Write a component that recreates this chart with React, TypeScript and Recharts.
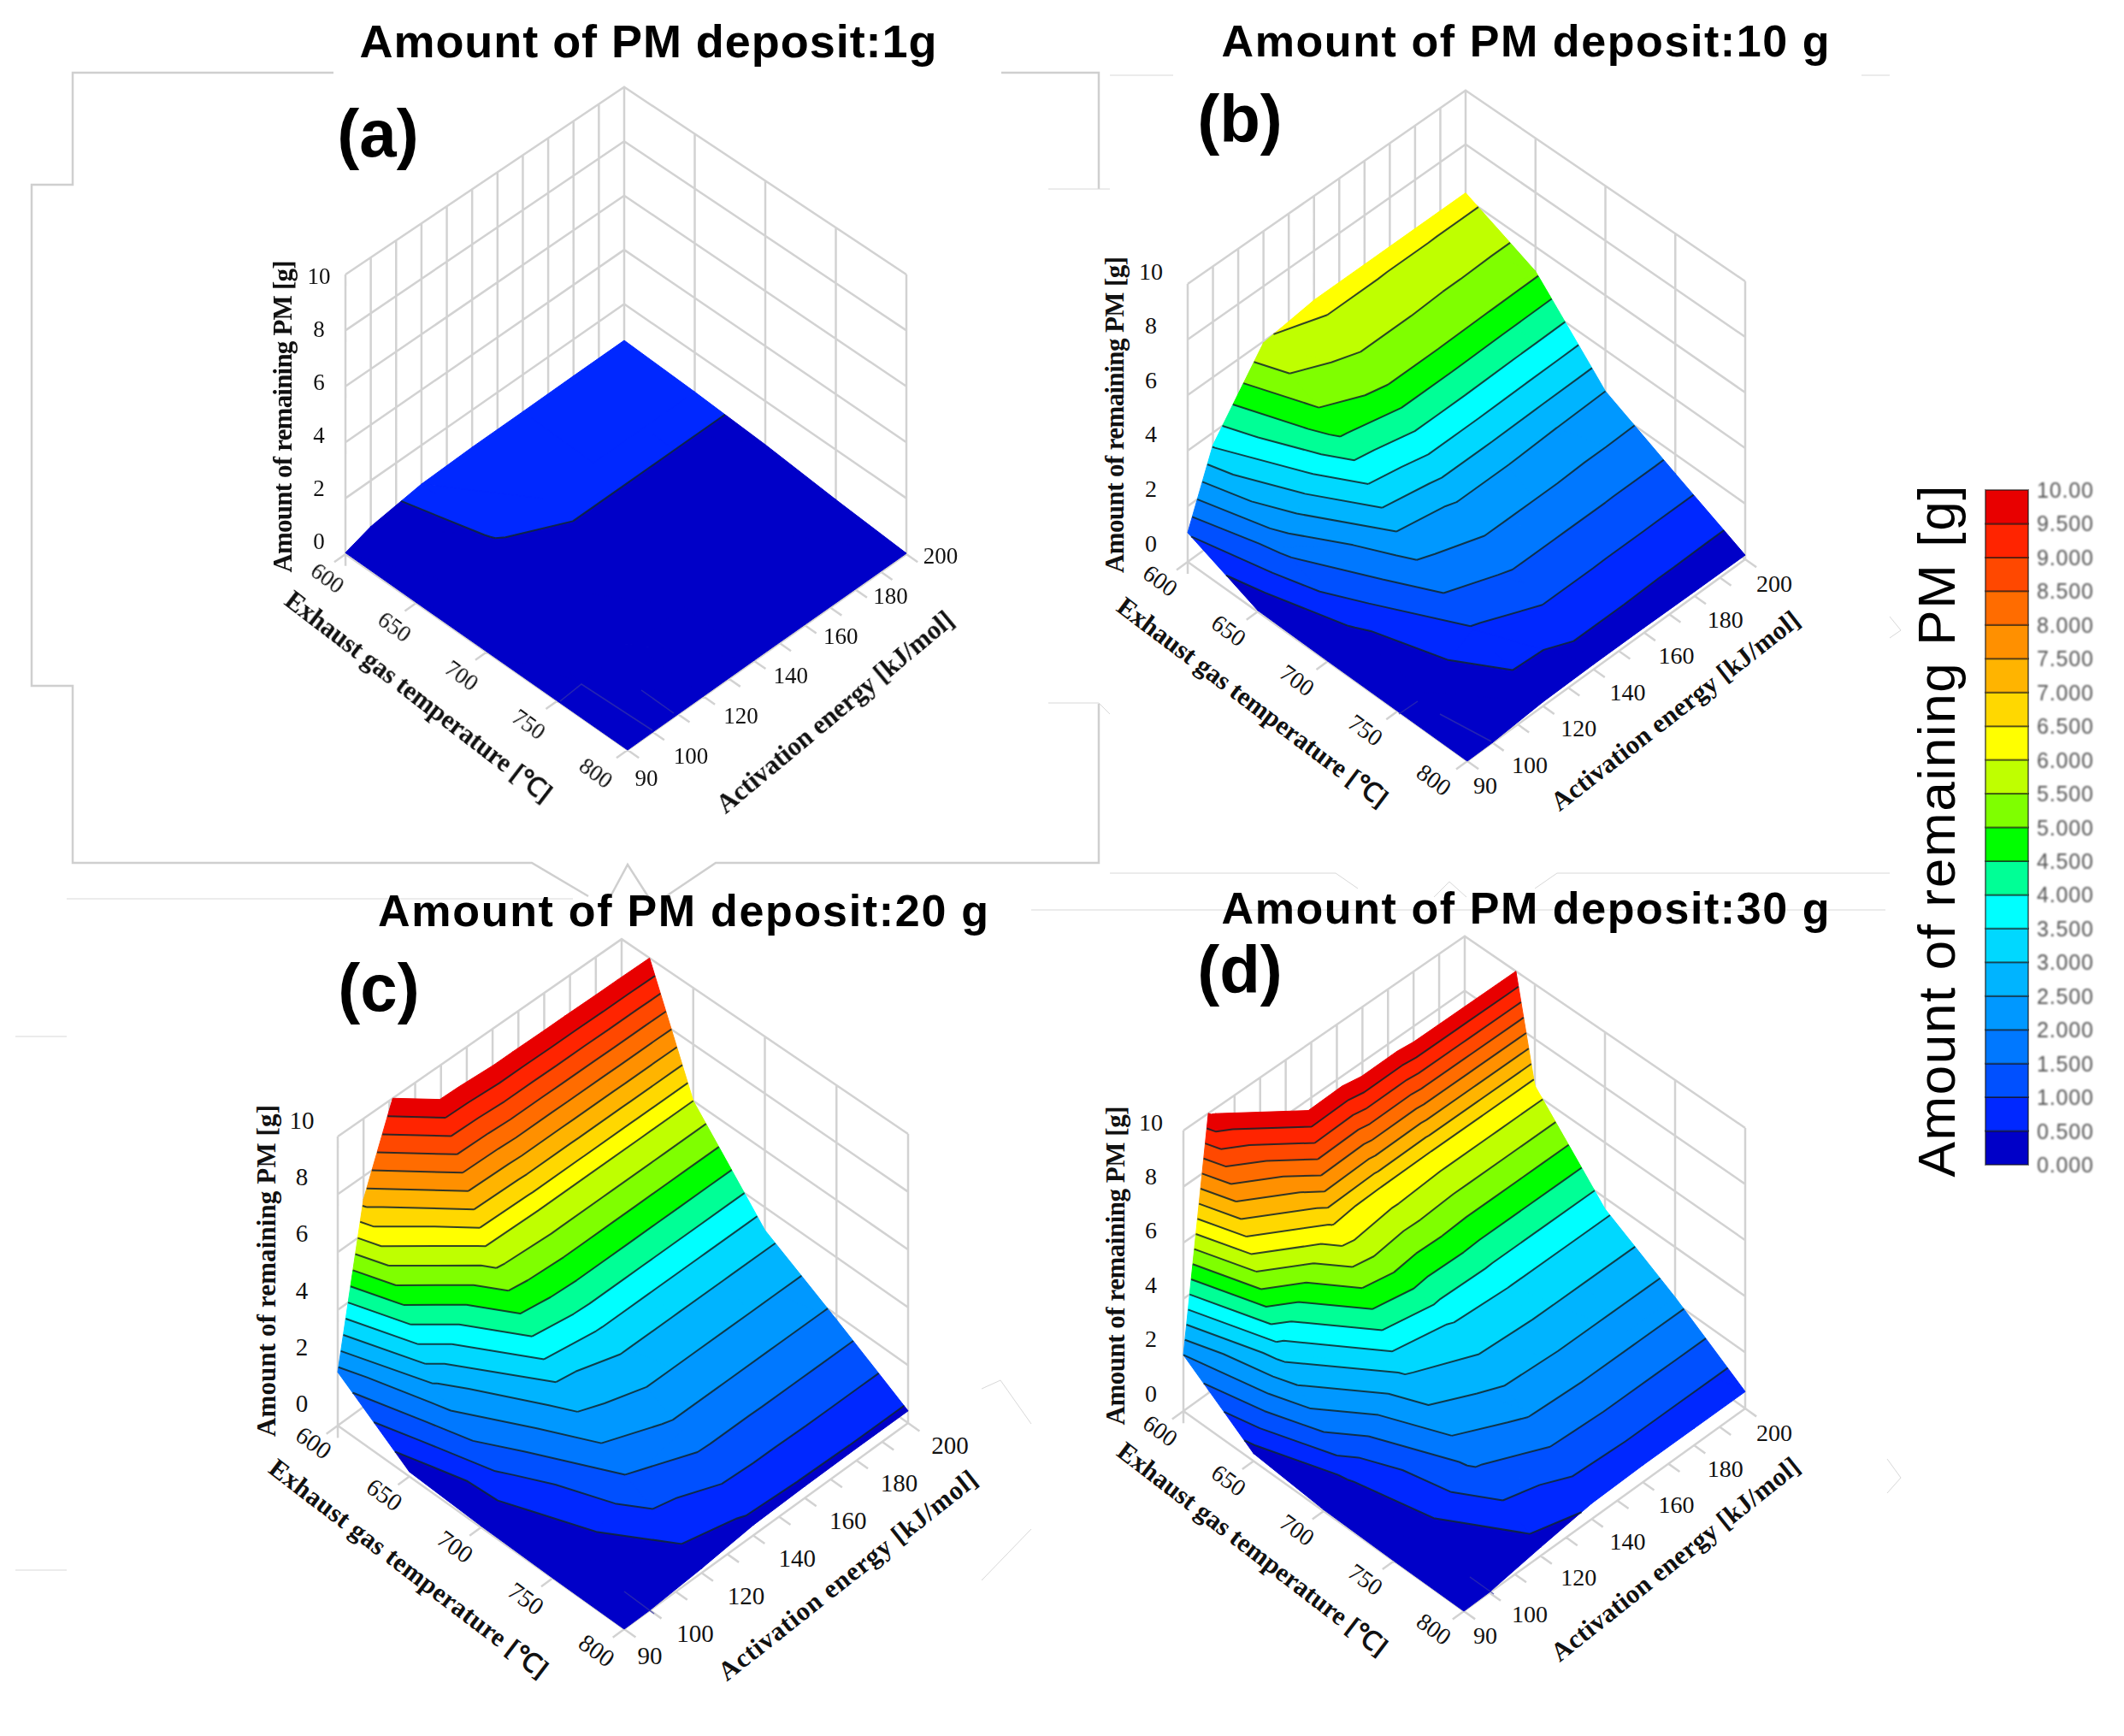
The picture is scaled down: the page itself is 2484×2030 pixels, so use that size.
import React from 'react';
import { ScatterChart, Scatter, XAxis, YAxis } from 'recharts';

const WIDTH = 2484;
const HEIGHT = 2030;

const temperatures = [600, 650, 700, 750, 800];
const energies = [90, 100, 120, 140, 160, 180, 200];
const energyGrid = [90, 100, 110, 120, 130, 140, 150, 160, 170, 180, 190, 200];
const energyLabels = [100, 120, 140, 160, 180, 200];
const heightTicks = [0, 2, 4, 6, 8, 10];
const levels = [0, 0.5, 1, 1.5, 2, 2.5, 3, 3.5, 4, 4.5, 5, 5.5, 6, 6.5, 7, 7.5, 8, 8.5, 9, 9.5, 10];
const bandColors = [
  '#0000c8', '#0028ff', '#0050ff', '#0078ff', '#0098ff', '#00b4ff', '#00d8ff', '#00ffff', '#00ff96', '#00ff00',
  '#7fff00', '#bfff00', '#ffff00', '#ffd800', '#ffb400', '#ff9000', '#ff6c00', '#ff4800', '#ff2400', '#e80000',
];

// remaining PM [g]: one row per activation energy, one column per temperature
const surfaceA = [
  [0.05, 0.03, 0.02, 0.01, 0],
  [0.35, 0.2, 0.08, 0.03, 0.01],
  [0.6, 0.51, 0.3, 0.1, 0.02],
  [0.65, 0.56, 0.42, 0.2, 0.03],
  [0.65, 0.56, 0.42, 0.2, 0.03],
  [0.66, 0.56, 0.42, 0.2, 0.03],
  [0.66, 0.56, 0.42, 0.2, 0.03],
];
const surfaceB = [
  [1.05, 0.05, 0.02, 0.01, 0],
  [3.55, 1.65, 0.42, 0.03, 0.01],
  [5.95, 4.75, 2.25, 0.95, 0.15],
  [6.2, 5.15, 2.55, 1.3, 0.18],
  [6.2, 5.15, 2.55, 1.3, 0.18],
  [6.2, 5.12, 2.52, 1.3, 0.16],
  [6.2, 5.1, 2.5, 1.3, 0.15],
];
const surfaceC = [
  [1.85, 0.16, 0.05, 0.01, 0],
  [7.2, 2.35, 0.74, 0.02, 0.01],
  [12.15, 5.9, 2.9, 1.4, 0.15],
  [12.4, 6.0, 3.2, 1.83, 0.35],
  [12.45, 6.0, 3.2, 1.83, 0.4],
  [12.5, 6.0, 3.2, 1.83, 0.42],
  [12.55, 6.0, 3.2, 1.83, 0.42],
];
const surfaceD = [
  [2.0, 0.27, 0.05, 0.01, 0],
  [10.2, 3.2, 0.53, 0.07, 0.02],
  [17.5, 6.6, 3.1, 1.6, 0.3],
  [19, 6.4, 3.55, 2.15, 0.55],
  [20, 6.3, 3.6, 2.2, 0.6],
  [20, 6.3, 3.6, 2.2, 0.6],
  [20, 6.3, 3.6, 2.2, 0.6],
];

const panels = [
  {
    id: 'a', letter: '(a)', title: 'Amount of PM deposit:1g', surface: surfaceA,
    left: [404, 648], tVec: [330, 229], eVec: [326, -229], unit: 32.7,
    titlePos: [758, 67, 675], letterPos: [442, 184],
    zLabel: [373, 633, 323], tLabel: [[383, 676], [697, 904]],
    eLabel90: [756, 910], eLabel: [[808, 884], [1100, 650]], tick: 27,
    tTitle: [490, 814, 384, 37.5], eTitle: [976, 832, 350, -39.8], zTitle: [330, 487, 365],
  },
  {
    id: 'b', letter: '(b)', title: 'Amount of PM deposit:10 g', surface: surfaceB,
    left: [1389, 657], tVec: [327, 233], eVec: [325, -236], unit: 32.5,
    titlePos: [1784, 67, 711], letterPos: [1450, 167],
    zLabel: [1346, 635, 317], tLabel: [[1357, 679], [1677, 912]],
    eLabel90: [1737, 918], eLabel: [[1789, 894], [2075, 682]], tick: 28,
    tTitle: [1465, 821, 387, 36.9], eTitle: [1959, 831, 359, -37.9], zTitle: [1303, 485, 370],
  },
  {
    id: 'c', letter: '(c)', title: 'Amount of PM deposit:20 g', surface: surfaceC,
    left: [395, 1667], tVec: [335, 238], eVec: [332, -241], unit: 33.8,
    titlePos: [799, 1084, 714], letterPos: [443, 1183],
    zLabel: [353, 1641, 1310], tLabel: [[367, 1687], [698, 1930]],
    eLabel90: [760, 1936], eLabel: [[813, 1910], [1111, 1690]], tick: 29,
    tTitle: [478, 1834, 401, 37.3], eTitle: [991, 1842, 376, -38.3], zTitle: [311, 1486, 388],
  },
  {
    id: 'd', letter: '(d)', title: 'Amount of PM deposit:30 g', surface: surfaceD,
    left: [1384, 1650], tVec: [328, 234], eVec: [329, -237], unit: 32.8,
    titlePos: [1784, 1081, 711], letterPos: [1450, 1162],
    zLabel: [1346, 1629, 1312], tLabel: [[1357, 1673], [1677, 1905]],
    eLabel90: [1737, 1912], eLabel: [[1789, 1887], [2075, 1675]], tick: 28,
    tTitle: [1465, 1811, 389, 37.5], eTitle: [1959, 1823, 362, -38.6], zTitle: [1304, 1480, 373],
  },
];

// stray frame remnants of the composite figure
const frameLines = [
  [[390, 85], [85, 85], [85, 216], [37, 216], [37, 802], [85, 802], [85, 1009], [622, 1009], [688, 1048]],
  [[1171, 85], [1285, 85], [1285, 221]],
  [[1285, 823], [1285, 1009], [837, 1009], [779, 1048]],
  [[713, 1050], [734, 1011], [759, 1050]],
];
const thinLines = [
  [[1226, 221], [1298, 221]], [[1226, 822], [1285, 822], [1298, 835]],
  [[1298, 88], [1372, 88]], [[2177, 88], [2210, 88]],
  [[78, 1051], [670, 1051]], [[1206, 1064], [2205, 1064]],
  [[18, 1212], [78, 1212]], [[18, 1836], [78, 1836]],
  [[1148, 1624], [1170, 1614], [1206, 1665]], [[1148, 1848], [1206, 1788]],
  [[1298, 1021], [1562, 1021], [1588, 1039]], [[1821, 1021], [2210, 1021]], [[1795, 1039], [1821, 1021]],
  [[1677, 1049], [1695, 1031], [1715, 1049]],
  [[2207, 1706], [2223, 1728], [2207, 1746]], [[2210, 721], [2223, 737], [2210, 746]],
];
// faint scratches left on the surfaces
const scratchLines = [
  [[655, 820], [680, 800], [763, 854]], [[750, 807], [788, 834]],
  [[1636, 835], [1658, 820]], [[1684, 835], [1744, 867]],
  [[730, 1861], [765, 1887]], [[1719, 1844], [1747, 1864]],
];

const BAR = { x0: 2322, x1: 2372, y0: 1362, y1: 573 };

type Pt = number[];
type Label = {
  x: number; y: number; text: string; size: number; weight?: string; family: string;
  angle?: number; length?: number; fill?: string; blur?: number;
};

// slight perspective: the height unit shrinks a little towards the back corner
const project = (p: any, t: number, e: number, z: number): Pt => [
  p.left[0] + t * p.tVec[0] + e * p.eVec[0],
  p.left[1] + t * p.tVec[1] + e * p.eVec[1] - z * p.unit * (1 - 0.03 * (e - t)),
];
const tFrac = (v: number) => (v - 600) / 200;
const eFrac = (v: number) => (v - 90) / 110;

// every grid cell is split in two triangles along its rising diagonal, as the contour kinks show
const triangles = (surface: number[][]): Pt[][] => {
  const out: Pt[][] = [];
  for (let j = 0; j < energies.length - 1; j++) {
    for (let i = 0; i < temperatures.length - 1; i++) {
      const node = (a: number, b: number): Pt => [tFrac(temperatures[a]), eFrac(energies[b]), surface[b][a]];
      out.push([node(i, j), node(i + 1, j), node(i + 1, j + 1)]);
      out.push([node(i, j), node(i + 1, j + 1), node(i, j + 1)]);
    }
  }
  return out;
};

const cross = (a: Pt, b: Pt, level: number): Pt => {
  const f = (level - a[2]) / (b[2] - a[2]);
  return [a[0] + f * (b[0] - a[0]), a[1] + f * (b[1] - a[1]), level];
};

const clip = (poly: Pt[], level: number, keepAbove: boolean): Pt[] => {
  const out: Pt[] = [];
  poly.forEach((a, i) => {
    const b = poly[(i + 1) % poly.length];
    const aIn = keepAbove ? a[2] >= level : a[2] <= level;
    const bIn = keepAbove ? b[2] >= level : b[2] <= level;
    if (aIn) out.push(a);
    if (aIn !== bIn) out.push(cross(a, b, level));
  });
  return out;
};

const contourSegments = (tri: Pt[], level: number): Pt[] => {
  const pts: Pt[] = [];
  tri.forEach((a, i) => {
    const b = tri[(i + 1) % 3];
    if (a[2] < level !== b[2] < level) pts.push(cross(a, b, level));
  });
  return pts.length === 2 ? pts : [];
};

// one Scatter holding many paths: the points go through the chart's scales, the line draws them
const pathSeries = (key: string, paths: Pt[][], style: any, closed = false) => {
  const data = paths.flatMap((path, id) => path.map(([x, y]) => ({ x, y, id })));
  const draw = ({ points }: any) => {
    let d = '';
    points.forEach((p: any, i: number) => {
      const first = i === 0 || data[i - 1].id !== data[i].id;
      const last = i === data.length - 1 || data[i + 1].id !== data[i].id;
      d += `${first ? 'M' : 'L'}${p.x} ${p.y}${closed && last ? 'Z' : ''}`;
    });
    return <path d={d} fill="none" {...style} />;
  };
  return <Scatter key={key} data={data} line={draw} shape={() => <g />} isAnimationActive={false} />;
};

const textSeries = (key: string, labels: Label[]) => (
  <Scatter
    key={key}
    data={labels}
    isAnimationActive={false}
    shape={(props: any) => {
      const l: Label = props.payload;
      return (
        <text
          x={props.cx}
          y={props.cy}
          fontSize={l.size}
          fontWeight={l.weight ?? 'normal'}
          fontFamily={l.family}
          textAnchor="middle"
          dominantBaseline="central"
          fill={l.fill ?? '#111'}
          textLength={l.length}
          lengthAdjust="spacing"
          style={l.blur ? { filter: `blur(${l.blur}px)` } : undefined}
          transform={l.angle ? `rotate(${l.angle} ${props.cx} ${props.cy})` : undefined}
        >
          {l.text}
        </text>
      );
    }}
  />
);

const SERIF = '"Liberation Serif", serif';
const SANS = '"Liberation Sans", Arial, sans-serif';

const panelSeries = (p: any) => {
  const tris = triangles(p.surface);
  const series: any[] = [];

  // walls and floor edges
  const wall: Pt[][] = [];
  heightTicks.forEach((z) => wall.push([project(p, 0, 0, z), project(p, 0, 1, z), project(p, 1, 1, z)]));
  energyGrid.forEach((e) => wall.push([project(p, 0, eFrac(e), 0), project(p, 0, eFrac(e), 10)]));
  temperatures.forEach((t) => wall.push([project(p, tFrac(t), 1, 0), project(p, tFrac(t), 1, 10)]));
  wall.push([project(p, 0, 0, 0), project(p, 1, 0, 0), project(p, 1, 1, 0)]);
  energyGrid.forEach((e) => wall.push([project(p, 1, eFrac(e), 0), project(p, 1.04, eFrac(e), 0)]));
  temperatures.forEach((t) => wall.push([project(p, tFrac(t), 0, 0), project(p, tFrac(t), -0.04, 0)]));
  heightTicks.forEach((z) => wall.push([project(p, 0, 0, z), project(p, 0.03, -0.03, z)]));
  series.push(pathSeries(`wall-${p.id}`, wall, { stroke: '#d2d2d2', strokeWidth: 2.5 }));

  // filled bands
  bandColors.forEach((color, b) => {
    const polys = tris
      .map((tri) => clip(clip(tri, levels[b], true), levels[b + 1], false))
      .filter((poly) => poly.length >= 3)
      .map((poly) => poly.map((q) => project(p, q[0], q[1], q[2])));
    if (polys.length) {
      series.push(pathSeries(`band-${p.id}-${b}`, polys, { fill: color, stroke: color, strokeWidth: 1 }, true));
    }
  });

  // contour lines
  const segments: Pt[][] = [];
  levels.slice(1, -1).forEach((level) => {
    tris.forEach((tri) => {
      const seg = contourSegments(tri, level);
      if (seg.length) segments.push(seg.map((q) => project(p, q[0], q[1], q[2])));
    });
  });
  series.push(pathSeries(`contour-${p.id}`, segments, { stroke: '#10242a', strokeWidth: 2, strokeOpacity: 0.85 }));

  // labels
  const labels: Label[] = [];
  const blur = p.id === 'a' ? 0.7 : 0;
  heightTicks.forEach((z) =>
    labels.push({
      x: p.zLabel[0], y: p.zLabel[1] + (z / 10) * (p.zLabel[2] - p.zLabel[1]),
      text: String(z), size: p.tick, family: SERIF, blur,
    }));
  temperatures.forEach((t) => {
    const f = tFrac(t);
    labels.push({
      x: p.tLabel[0][0] + f * (p.tLabel[1][0] - p.tLabel[0][0]),
      y: p.tLabel[0][1] + f * (p.tLabel[1][1] - p.tLabel[0][1]),
      text: String(t), size: p.tick, family: SERIF, angle: 36, blur,
    });
  });
  labels.push({ x: p.eLabel90[0], y: p.eLabel90[1], text: '90', size: p.tick, family: SERIF, blur });
  energyLabels.forEach((e) => {
    const f = (e - 100) / 100;
    labels.push({
      x: p.eLabel[0][0] + f * (p.eLabel[1][0] - p.eLabel[0][0]),
      y: p.eLabel[0][1] + f * (p.eLabel[1][1] - p.eLabel[0][1]),
      text: String(e), size: p.tick, family: SERIF, blur,
    });
  });
  labels.push({
    x: p.tTitle[0], y: p.tTitle[1], text: 'Exhaust gas temperature [℃]', size: 31, weight: 'bold',
    family: SERIF, angle: p.tTitle[3], length: p.tTitle[2], blur,
  });
  labels.push({
    x: p.eTitle[0], y: p.eTitle[1], text: 'Activation energy [kJ/mol]', size: 31, weight: 'bold',
    family: SERIF, angle: p.eTitle[3], length: p.eTitle[2], blur,
  });
  labels.push({
    x: p.zTitle[0], y: p.zTitle[1], text: 'Amount of remaining PM [g]', size: 31, weight: 'bold',
    family: SERIF, angle: -90, length: p.zTitle[2], blur,
  });
  labels.push({
    x: p.titlePos[0], y: p.titlePos[1] - 19, text: p.title, size: p.id === 'a' ? 54 : 52, weight: 'bold',
    family: SANS, length: p.titlePos[2], fill: '#000',
  });
  labels.push({
    x: p.letterPos[0], y: p.letterPos[1] - 28, text: p.letter, size: 78, weight: 'bold', family: SANS, fill: '#000',
  });
  series.push(textSeries(`labels-${p.id}`, labels));
  return series;
};

const barY = (v: number) => BAR.y0 + (v / 10) * (BAR.y1 - BAR.y0);

const legendSeries = () => {
  const series: any[] = [];
  bandColors.forEach((color, b) => {
    series.push(pathSeries(`legend-${b}`, [[
      [BAR.x0, barY(levels[b])], [BAR.x1, barY(levels[b])],
      [BAR.x1, barY(levels[b + 1])], [BAR.x0, barY(levels[b + 1])],
    ]], { fill: color, stroke: 'rgba(20,20,20,0.55)', strokeWidth: 2 }, true));
  });
  const labels: Label[] = levels.map((v) => ({
    x: 2415, y: barY(v), text: v === 10 ? '10.00' : v.toFixed(3), size: 25,
    family: SANS, fill: '#555', length: 66, blur: 0.8,
  }));
  labels.push({
    x: 2264, y: 972, text: 'Amount of remaining PM [g]', size: 62, family: SANS, fill: '#000', angle: -90, length: 809,
  });
  series.push(textSeries('legend-labels', labels));
  return series;
};

export default function App() {
  return (
    <div style={{ position: 'absolute', left: 0, top: 0, width: WIDTH, height: HEIGHT, background: '#fff' }}>
      <ScatterChart width={WIDTH} height={HEIGHT} margin={{ top: 0, right: 0, bottom: 0, left: 0 }}>
        <XAxis type="number" dataKey="x" domain={[0, WIDTH]} hide allowDataOverflow />
        <YAxis type="number" dataKey="y" domain={[0, HEIGHT]} reversed hide allowDataOverflow />
        {pathSeries('frame', frameLines, { stroke: '#cfcfcf', strokeWidth: 2.5 })}
        {pathSeries('thin', thinLines, { stroke: '#d8d8d8', strokeWidth: 1 })}
        {panels.flatMap(panelSeries)}
        {pathSeries('scratch', scratchLines, { stroke: '#3434a8', strokeWidth: 1.5, strokeOpacity: 0.7 })}
        {legendSeries()}
      </ScatterChart>
    </div>
  );
}
